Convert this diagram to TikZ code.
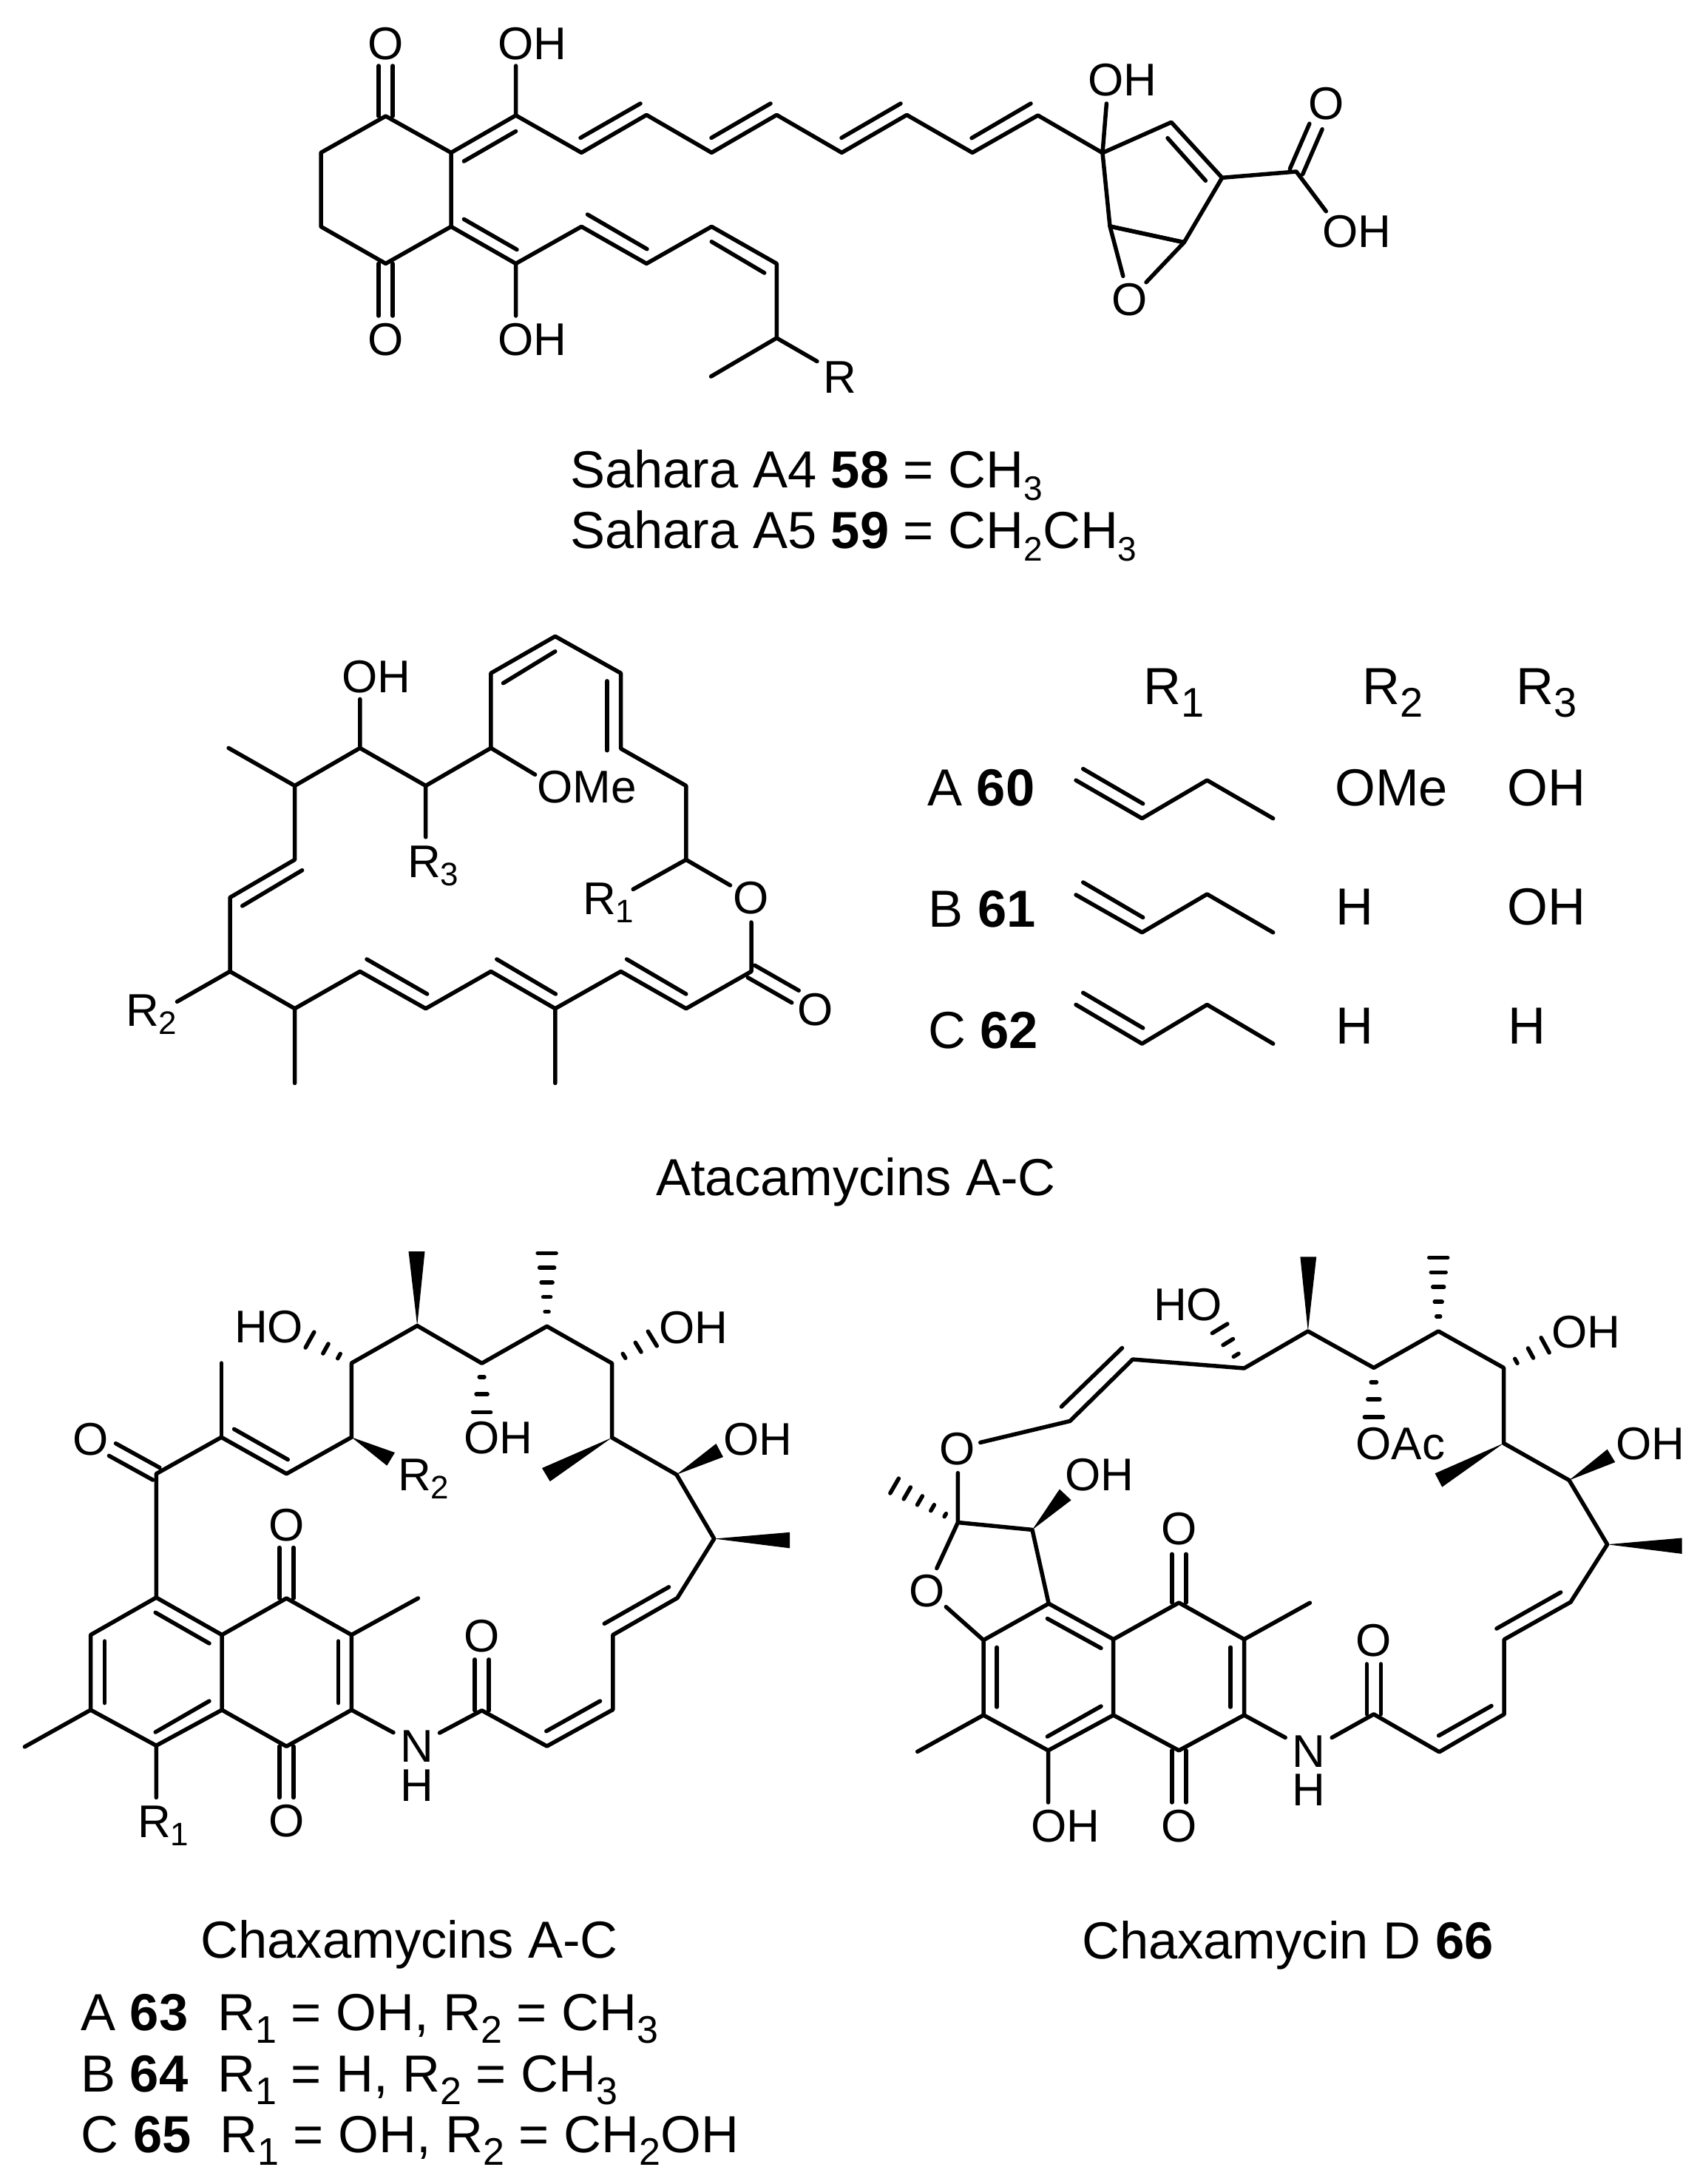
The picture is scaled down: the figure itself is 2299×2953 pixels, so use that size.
\documentclass[tikz,border=0pt]{standalone}
\usepackage{fontspec}
\setmainfont{Liberation Sans}
\usetikzlibrary{calc}
\newcommand\molfont{\fontsize{62}{62}\selectfont}
\newcommand\capfont{\fontsize{70.5}{70.5}\selectfont}
\newcommand\sbs[3]{\raisebox{-#2pt}{\fontsize{#1}{#1}\selectfont #3}}
\newcommand\ms[1]{\sbs{44}{11}{#1}}
\newcommand\ts[1]{\sbs{56}{17}{#1}}
\newcommand\ls[1]{\sbs{52}{17}{#1}}
\newcommand\hs[1]{\sbs{46}{17}{#1}}
\tikzset{
  bond/.style={line width=5.5pt,line cap=round,line join=round,black},
  hashb/.style={line width=5.5pt,line cap=round,black},
  lab/.style={inner sep=0pt,anchor=base west,font=\molfont},
  labc/.style={inner sep=0pt,anchor=base,font=\molfont},
  labnh/.style={inner sep=0pt,anchor=center,align=center,font=\molfont},
  captext/.style={inner sep=0pt,anchor=base west,font=\capfont},
}
% parallel pair of lines centred on a--b
\newcommand\dbl[3]{\draw[bond] ($(#1)!#3pt!90:(#2)$) -- ($(#2)!#3pt!-90:(#1)$);
  \draw[bond] ($(#1)!#3pt!-90:(#2)$) -- ($(#2)!#3pt!90:(#1)$);}
% inner line of a double bond
\newcommand\inb[3]{\coordinate (#1s) at (#2); \coordinate (#1e) at (#3); \draw[bond] (#1s) -- (#1e);}
% wedge
\newcommand\wdg[3]{\fill[black] (#1) -- (#2) -- (#3) -- cycle;}
% hashed bond: from, last mark centre, fractions, half width of last mark
\newcommand\hsh[4]{\foreach \hf in {#3}{\pgfmathsetmacro\hw{\hf*#4}
  \draw[hashb] ($(#1)!\hf!(#2)!\hw pt!90:(#1)$) -- ($(#1)!\hf!(#2)!\hw pt!-90:(#1)$);}}
\begin{document}
\begin{tikzpicture}[x=1pt,y=-1pt]
\useasboundingbox (0,0) rectangle (2299,2953);
\fill[white] (0,0) rectangle (2299,2953);

%%%%% Sahara
\foreach \n/\x/\y in {s1/521.6/157,s2/434/206.4,s3/434/306.4,s4/521.6/356.4,s5/610/306.4,s6/610/206.4,
 sa/521.6/89,sb/521.6/427,s7/697.6/156,s7o/697.6/89,s8/786.3/206.4,s9/874.3/155.4,s10/962.3/206.4,
 s11/1050.3/155.4,s12/1138.3/206.4,s13/1226.3/155.4,s14/1315/206.4,s15/1403.6/156,s16/1491/206.7,
 s16o/1496.4/140,s17/1584/165.3,s18/1652.7/240.3,s19/1601.3/327.7,s20/1501/306,se1/1518.8/373.3,
 se2/1550/381.7,s21/1753/232,s21o/1779.5/171,s21h/1793.3/285.7,s22/697.6/356.4,s22o/697.6/427,
 s23/786.3/306.4,s24/874.3/356.4,s25/962.3/306.4,s26/1050.3/356.4,s27/1050.3/457,s28/961.6/509,s29/1105/488.6}
 {\coordinate (\n) at (\x,\y);}
\draw[bond] (s6)--(s1)--(s2)--(s3)--(s4)--(s5)--(s6)--(s7)--(s8)--(s9)--(s10)--(s11)--(s12)--(s13)--(s14)--(s15)--(s16)--(s17)--(s18)--(s19)--(s20)--(s16);
\draw[bond] (s7)--(s7o) (s16)--(s16o) (s20)--(s19) (s20)--(se1) (s19)--(se2) (s18)--(s21) (s21)--(s21h);
\draw[bond] (s5)--(s22)--(s23)--(s24)--(s25)--(s26)--(s27)--(s28) (s27)--(s29) (s22)--(s22o);
\dbl{s1}{sa}{9.5} \dbl{s4}{sb}{9.5} \dbl{s21}{s21o}{9.4}
\inb{si1}{627.4,218}{697.6,177.5}
\inb{si2}{785,186.4}{866,140}
\inb{si3}{962,186.4}{1042,140}
\inb{si4}{1138,186.4}{1218,140}
\inb{si5}{1314,186.7}{1394,140}
\inb{si6}{1579,186.7}{1630.4,244.3}
\inb{si7}{627.4,296.4}{699,337.5}
\inb{si8}{794.5,290}{875,336.8}
\inb{si9}{962.3,326.8}{1033.7,369}
\node[labc] (sl1) at (521.6,80.4) {O};
\node[lab] (sl2) at (673.5,80.4) {OH};
\node[labc] (sl3) at (521.6,480) {O};
\node[lab] (sl4) at (673.5,480) {OH};
\node[lab] (sl5) at (1113,531.4) {R};
\node[lab] (sl6) at (1471,129.3) {OH};
\node[labc] (sl7) at (1793.3,161) {O};
\node[lab] (sl8) at (1788,334) {OH};
\node[labc] (sl9) at (1527.7,426.7) {O};
\node[captext] (sc1) at (771,659.3) {Sahara A4 \textbf{58} = CH\hs{3}};
\node[captext] (sc2) at (771,741.7) {Sahara A5 \textbf{59} = CH\hs{2}CH\hs{3}};

%%%%% Atacamycin
\foreach \n/\x/\y in {ta/750.8/860.4,tb/663.9/910.2,tc/839.6/910.2,td/663.9/1011.4,te/839.6/1012.2,
 tf/927.8/1062.4,tg/927.8/1162.4,th/575.7/1062.4,ti/486.8/1011.4,tj/398.6/1062.4,tk/309.1/1011.4,
 tl/398.6/1162.4,tm/311/1213.5,tn/311/1313.5,to/398.6/1363.7,tp/486.8/1313.5,tq/575.7/1363.7,
 tr/663.9/1313.5,ts/750.8/1363.7,tt/839.6/1313.5,tu/927.8/1363.7,tv/1016/1313.5,tom/398.6/1464.5,
 tsm/750.8/1464.5,tr2/239.5/1354.3,toh/486.8/945.3,tr3/575.7/1131.8,tome/723.6/1047.3,tr1/856.2/1202.4,
 to1/987.5/1197,to2/1016/1247,tco/1075.5/1347.5}
 {\coordinate (\n) at (\x,\y);}
\draw[bond] (to1)--(tg)--(tf)--(te)--(tc)--(ta)--(tb)--(td)--(th)--(ti)--(tj)--(tl)--(tm)--(tn)--(to)--(tp)--(tq)--(tr)--(ts)--(tt)--(tu)--(tv)--(to2);
\draw[bond] (tj)--(tk) (tn)--(tr2) (to)--(tom) (ts)--(tsm) (ti)--(toh) (th)--(tr3) (td)--(tome) (tg)--(tr1);
\dbl{tv}{tco}{9.5}
\inb{ti1}{750.8,880.8}{680.5,923.7}
\inb{ti2}{821,920.8}{821,1014.7}
\inb{ti3}{408.6,1176.7}{327.7,1224.9}
\inb{ti4}{496,1297}{577.7,1344}
\inb{ti5}{671.8,1297}{751.4,1344}
\inb{ti6}{847.6,1297}{927.8,1344}
\node[lab] (tl1) at (462,936) {OH};
\node[lab] (tl2) at (726,1085) {OMe};
\node[lab] (tl3) at (551,1186) {R\ms{3}};
\node[lab] (tl4) at (788,1236) {R\ms{1}};
\node[labc] (tl5) at (1015.5,1235) {O};
\node[lab] (tl6) at (170,1387) {R\ms{2}};
\node[labc] (tl7) at (1103,1386) {O};
\node[captext] (tc1) at (887,1616.7) {Atacamycins A-C};

%%%%% Table
\node[captext] (u1) at (1546,952.7) {R\ts{1}};
\node[captext] (u2) at (1842,952.7) {R\ts{2}};
\node[captext] (u3) at (2050,952.7) {R\ts{3}};
\node[captext] (ua) at (1254,1089.7) {A \textbf{60}};
\node[captext] (ub) at (1255.6,1253) {B \textbf{61}};
\node[captext] (uc) at (1255,1417.7) {C \textbf{62}};
\node[captext] (u4) at (1805,1089.7) {OMe};
\node[captext] (u5) at (2038,1089.7) {OH};
\node[captext] (u6) at (1806.7,1250) {H};
\node[captext] (u7) at (2038,1250) {OH};
\node[captext] (u8) at (1806.7,1411) {H};
\node[captext] (u9) at (2039.5,1411) {H};
\foreach \r/\ya/\yb/\yc/\yd/\ye in {1/1055/1039.6/1106.6/1055/1086.7,2/1209.9/1193/1260.8/1209/1240.5,3/1358.4/1342.3/1411.2/1358.4/1390}{
 \coordinate (v\r a) at (1455,\ya);
 \coordinate (v\r b) at (1464.7,\yb);
 \coordinate (v\r c) at (1544.4,\yc);
 \coordinate (v\r d) at (1632.4,\yd);
 \coordinate (v\r e) at (1721.7,\yc);
 \coordinate (v\r f) at (1545.7,\ye);
 \draw[bond] (v\r a)--(v\r c)--(v\r d)--(v\r e) (v\r b)--(v\r f);
}

%%%%% Chaxamycins A-C
\foreach \n/\x/\y in {c1/211.3/2160,c2/122.6/2210.5,c3/122.6/2312,c4/211.3/2360.2,c5/300.1/2312,c6/300.1/2210.5,
 c7/387.4/2161,c8/475.4/2210.5,c9/475.4/2312,c10/387.4/2361.3,cm1/33.4/2361.8,cm2/565.4/2161,cr1/211.3/2430.4,
 co1/387.4/2092.5,co2/387.4/2430.4,cn1/532/2342.6,cn2/594.5/2343,c11/651.6/2312.7,co3/651.6/2243.8,
 c12/739.6/2361,c13/828.8/2311.6,c14/828.8/2210.6,c15/916/2160.6,c16/965.8/2080.5,c17/914.9/1993.8,
 c18/827.6/1943.8,c19/827.6/1843.3,c20/739.6/1793.3,c21/651.6/1843.3,c22/564.2/1792.5,c23/475.4/1843,
 c24/475.4/1943.3,c25/387.4/1992.7,c26/299.4/1943.3,c27/211.3/1992.7,co4/152/1960,cm3/299.4/1843,
 cw1a/552.5/1692,cw1b/574.5/1692,cw2a/534/1964,cw2b/523.3/1981.7,ch1/419/1811.6,ch2/651.6/1909.6,
 ch3/739.6/1694.3,ch4/882.3/1810,cw3a/733/1985,cw3b/743.8/2003,cw4a/968.4/1952,cw4b/978/1970,
 cw5a/1068/2071.8,cw5b/1068/2093.3}
 {\coordinate (\n) at (\x,\y);}
\draw[bond] (c1)--(c2)--(c3)--(c4)--(c5)--(c6)--(c1) (c6)--(c7)--(c8)--(c9)--(c10)--(c5);
\draw[bond] (c3)--(cm1) (c8)--(cm2) (c4)--(cr1) (c9)--(cn1) (cn2)--(c11)--(c12)--(c13)--(c14)--(c15)--(c16)--(c17)--(c18)--(c19)--(c20)--(c21)--(c22)--(c23)--(c24)--(c25)--(c26)--(c27)--(c1);
\draw[bond] (c26)--(cm3);
\dbl{c7}{co1}{9.5} \dbl{c10}{co2}{9.5} \dbl{c11}{co3}{9.5} \dbl{c27}{co4}{9.5}
\inb{ci1}{210.2,2180.3}{283,2222}
\inb{ci2}{141.7,2219}{141.7,2302.6}
\inb{ci3}{210.2,2342}{283,2300}
\inb{ci4}{457.4,2219}{457.4,2302.6}
\inb{ci5}{316.6,1932.3}{389.3,1973.5}
\inb{ci6}{738.8,2340.7}{811.5,2300}
\inb{ci7}{817.3,2195.3}{904.5,2145.8}
\wdg{c22}{cw1a}{cw1b}
\wdg{c24}{cw2a}{cw2b}
\wdg{c18}{cw3a}{cw3b}
\wdg{c17}{cw4a}{cw4b}
\wdg{c16}{cw5a}{cw5b}
\hsh{c23}{ch1}{.3,.62,1}{12}
\hsh{c21}{ch2}{.28,.63,1}{12}
\hsh{c20}{ch3}{.2,.4,.6,.8,1}{12.5}
\hsh{c19}{ch4}{.3,.65,1}{11.5}
\node[labc] (cl1) at (387.4,2083) {O};
\node[labc] (cl2) at (387.4,2483.6) {O};
\node[labc] (cl3) at (122.6,1967) {O};
\node[labc] (cl4) at (651.6,2233.6) {O};
\node[lab] (cl5) at (186,2484.7) {R\ms{1}};
\node[lab] (cl6) at (538,2015.7) {R\ms{2}};
\node[lab] (cl7) at (317,1815.5) {HO};
\node[lab] (cl8) at (627,1965.7) {OH};
\node[lab] (cl9) at (891,1816) {OH};
\node[lab] (cl10) at (978,1967) {OH};
\node[labnh] (cl11) at (563.4,2387.7) {N\\[-9pt]H};
\node[captext] (cc1) at (271.5,2647.3) {Chaxamycins A-C};
\node[captext] (cc2) at (109,2745.7) {A \textbf{63}};
\node[captext] (cc3) at (294,2745.7) {R\ls{1} = OH, R\ls{2} = CH\ls{3}};
\node[captext] (cc4) at (109,2828) {B \textbf{64}};
\node[captext] (cc5) at (294,2828) {R\ls{1} = H, R\ls{2} = CH\ls{3}};
\node[captext] (cc6) at (109.5,2910.7) {C \textbf{65}};
\node[captext] (cc7) at (297,2910.7) {R\ls{1} = OH, R\ls{2} = CH\ls{2}OH};

%%%%% Chaxamycin D
\foreach \n/\x/\y in {d1/1418.2/2168.2,d2/1330/2217.6,d3/1330/2319,d4/1417.5/2366.8,d5/1505.7/2319,d6/1505.7/2216.5,
 d7/1594.3/2167,d8/1682.5/2216.5,d9/1682.5/2319,d10/1594.3/2366.8,dm1/1240.7/2368.4,doh/1417.5/2437,
 do1/1594.3/2101.3,do2/1594.3/2437,dm2/1771.4/2167.2,dn1/1738.2/2349.4,dn2/1801.2/2349.4,d11/1857.8/2317.8,
 do3/1857.8/2249.9,d12/1946.4/2368.8,d13/2034.2/2317.8,d14/2034.2/2216.7,d15/2124/2166.2,d16/2173.6/2088.2,
 d17/2122/2001.4,d18/2033.5/1951.4,d19/2033.5/1849.4,d20/1945.2/1799.9,d21/1857.8/1849.4,d22/1768.8/1799.9,
 d23/1682.5/1850,d24/1531.8/1838,d25/1447/1921.4,dq1/1325.7/1950.4,dq2/1295.4/1991.6,d26/1295.4/2058.5,
 d27/1396/2068.4,dq3/1266.8/2120.5,dq4/1279.3/2172.6,dw1a/1432.9/2013.5,dw1b/1448.6/2028.3,
 dw2a/1758.4/1699.4,dw2b/1780.2/1699.4,dw3a/1940.6/1992.2,dw3b/1950.2/2010.6,dw4a/2173.6/1959.6,
 dw4b/2184.3/1977,dw5a/2274.5/2079.5,dw5b/2274.5/2100.9,dh1/1209.6/2009,dh2/1649.6/1796.3,dh3/1857.8/1916.2,
 dh4/1945.2/1700.4,dh5/2089.6/1818.8}
 {\coordinate (\n) at (\x,\y);}
\draw[bond] (d1)--(d2)--(d3)--(d4)--(d5)--(d6)--(d1) (d6)--(d7)--(d8)--(d9)--(d10)--(d5);
\draw[bond] (d3)--(dm1) (d4)--(doh) (d8)--(dm2) (d9)--(dn1) (dn2)--(d11)--(d12)--(d13)--(d14)--(d15)--(d16)--(d17)--(d18)--(d19)--(d20)--(d21)--(d22)--(d23)--(d24)--(d25)--(dq1);
\draw[bond] (dq2)--(d26)--(d27)--(d1) (d26)--(dq3) (dq4)--(d2);
\dbl{d7}{do1}{9.5} \dbl{d10}{do2}{9.5} \dbl{d11}{do3}{9.5}
\inb{di1}{1435.4,1902}{1517.5,1822.6}
\inb{di2}{2023.9,2202}{2110.6,2153}
\inb{di3}{1945.6,2346.8}{2017,2306.5}
\inb{di4}{1416.4,2188.5}{1489,2228.5}
\inb{di5}{1347.9,2227.4}{1347.9,2308}
\inb{di6}{1416.4,2348}{1489,2307}
\inb{di7}{1664,2227.4}{1664,2308}
\wdg{d27}{dw1a}{dw1b}
\wdg{d22}{dw2a}{dw2b}
\wdg{d18}{dw3a}{dw3b}
\wdg{d17}{dw4a}{dw4b}
\wdg{d16}{dw5a}{dw5b}
\hsh{d26}{dh1}{.2,.4,.6,.8,1}{11.5}
\hsh{d23}{dh2}{.33,.66,1}{12}
\hsh{d21}{dh3}{.29,.64,1}{12.5}
\hsh{d20}{dh4}{.2,.4,.6,.8,1}{12.5}
\hsh{d19}{dh5}{.3,.65,1}{11.5}
\node[labc] (dl1) at (1294.3,1980.6) {O};
\node[labc] (dl2) at (1253.2,2172) {O};
\node[lab] (dl3) at (1440,2015.7) {OH};
\node[labc] (dl4) at (1594.3,2088.7) {O};
\node[labc] (dl5) at (1594.3,2490) {O};
\node[lab] (dl6) at (1394,2490) {OH};
\node[lab] (dl7) at (1560,1785.9) {HO};
\node[lab] (dl8) at (1833.5,1973.4) {OAc};
\node[lab] (dl9) at (2098,1822.9) {OH};
\node[lab] (dl10) at (2185,1973.4) {OH};
\node[labnh] (dl11) at (1769.5,2394) {N\\[-10.5pt]H};
\node[labc] (dl13) at (1857.8,2239.7) {O};
\node[captext] (dc1) at (1463,2648.3) {Chaxamycin D \textbf{66}};
\end{tikzpicture}
\end{document}
